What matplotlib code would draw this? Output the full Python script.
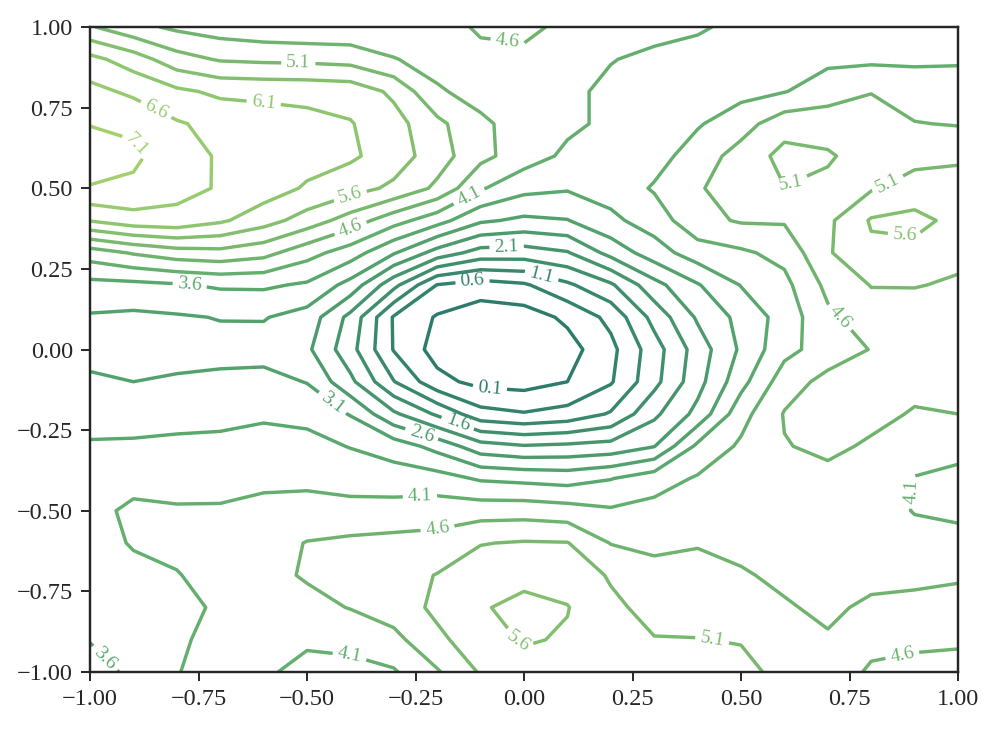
import numpy as np
import matplotlib
matplotlib.use("Agg")
from matplotlib import pyplot as plt
from matplotlib.colors import LinearSegmentedColormap

plt.rcParams['font.family'] = 'serif'
plt.rcParams['font.serif'] = ['Liberation Serif', 'DejaVu Serif']
plt.rcParams['axes.edgecolor'] = '.15'
plt.rcParams['xtick.color'] = '.15'
plt.rcParams['ytick.color'] = '.15'
plt.rcParams['text.color'] = '.15'
plt.rcParams['axes.linewidth'] = 1.0

# grid, rows from y=1.0 (top) down to y=-1.0
x = np.round(np.arange(-1.0, 1.01, 0.1), 2)
y = np.round(np.arange(1.0, -1.01, -0.1), 2)

z_rows = [
    [5.15, 4.75, 4.5, 4.35, 4.25, 4.2, 4.2, 4.3, 4.45, 4.65, 4.7, 4.5, 4.35, 4.25, 4.15, 4.0, 3.95, 3.95, 3.95, 3.95, 3.95],
    [6.25, 5.85, 5.3, 5.05, 5.0, 4.98, 4.92, 4.62, 4.45, 4.5, 4.5, 4.35, 4.12, 4.0, 3.95, 3.95, 3.97, 4.0, 4.0, 4.02, 4.05],
    [6.75, 6.5, 6.2, 6.0, 5.97, 5.95, 5.9, 5.5, 4.65, 4.45, 4.35, 4.2, 4.0, 3.9, 3.88, 3.95, 4.08, 4.35, 4.58, 4.36, 4.3],
    [7.08, 7.0, 6.65, 6.45, 6.35, 6.25, 6.13, 5.79, 5.23, 4.68, 4.42, 4.2, 4.0, 3.9, 4.05, 4.39, 4.9, 4.9, 4.85, 4.62, 4.57],
    [7.35, 7.2, 6.8, 6.55, 6.4, 6.3, 6.18, 5.86, 5.33, 4.74, 4.34, 4.0, 3.85, 3.9, 4.34, 4.8, 5.25, 5.15, 4.9, 4.95, 5.0],
    [7.07, 7.0, 6.75, 6.56, 6.35, 6.04, 5.8, 5.5, 5.0, 4.15, 3.75, 3.65, 3.8, 4.15, 4.55, 4.85, 5.09, 5.0, 5.05, 5.3, 5.35],
    [6.13, 6.4, 6.45, 6.18, 5.81, 5.38, 4.87, 4.3, 3.8, 3.18, 3.0, 3.08, 3.49, 3.83, 4.45, 4.65, 4.65, 5.0, 5.65, 5.75, 5.45],
    [4.35, 4.65, 4.88, 4.95, 4.77, 4.29, 3.85, 3.15, 2.4, 1.9, 1.87, 2.06, 2.77, 3.37, 3.86, 4.02, 4.25, 5.05, 5.5, 5.45, 5.2],
    [3.44, 3.47, 3.55, 3.67, 3.68, 3.53, 2.92, 1.75, 0.58, 0.38, 0.53, 1.01, 1.52, 2.43, 3.06, 3.62, 3.96, 4.73, 5.12, 5.12, 5.05],
    [3.05, 3.0, 3.05, 3.12, 3.13, 2.9, 1.95, 0.55, 0.05, -0.2, -0.15, 0.2, 0.74, 1.77, 2.67, 3.25, 3.81, 4.5, 4.85, 4.9, 4.95],
    [2.95, 2.95, 2.95, 2.95, 2.9, 2.7, 1.78, 0.57, -0.1, -0.3, -0.3, -0.1, 0.46, 1.38, 2.33, 3.18, 3.95, 4.33, 4.62, 4.75, 4.8],
    [3.17, 3.1, 3.15, 3.2, 3.27, 3.08, 2.22, 1.12, 0.25, -0.05, -0.1, 0.1, 0.55, 1.45, 2.42, 3.43, 4.37, 4.75, 4.8, 4.7, 4.7],
    [3.41, 3.39, 3.47, 3.46, 3.53, 3.47, 3.07, 2.19, 1.52, 0.78, 0.64, 0.78, 1.15, 1.99, 2.75, 3.92, 4.63, 4.75, 4.7, 4.57, 4.6],
    [3.65, 3.67, 3.68, 3.72, 3.78, 3.75, 3.58, 3.37, 2.93, 2.3, 2.14, 2.2, 2.28, 2.58, 3.71, 4.18, 4.58, 4.68, 4.55, 4.35, 4.29],
    [3.9, 3.93, 3.91, 3.93, 4.02, 3.99, 3.9, 3.84, 3.8, 3.54, 3.47, 3.4, 3.58, 3.88, 4.15, 4.3, 4.45, 4.5, 4.45, 4.08, 3.95],
    [3.95, 4.2, 4.15, 4.15, 4.2, 4.28, 4.26, 4.29, 4.36, 4.38, 4.39, 4.31, 4.16, 4.26, 4.37, 4.4, 4.35, 4.4, 4.3, 4.08, 4.0],
    [3.95, 4.13, 4.2, 4.25, 4.4, 4.62, 4.7, 4.75, 4.78, 5.08, 5.14, 5.12, 4.58, 4.5, 4.57, 4.47, 4.35, 4.3, 4.3, 4.25, 4.26],
    [3.85, 4.0, 4.08, 4.25, 4.45, 4.65, 4.85, 4.9, 5.12, 5.35, 5.45, 5.4, 5.05, 4.75, 4.75, 4.65, 4.5, 4.35, 4.45, 4.5, 4.55],
    [3.75, 3.9, 4.0, 4.15, 4.3, 4.45, 4.62, 4.85, 5.2, 5.55, 5.75, 5.62, 5.2, 4.95, 4.95, 4.89, 4.65, 4.5, 4.7, 4.72, 4.75],
    [3.62, 3.75, 4.05, 4.2, 4.2, 4.15, 4.24, 4.45, 5.0, 5.35, 5.65, 5.55, 5.3, 5.12, 5.11, 5.08, 4.9, 4.65, 4.7, 4.7, 4.68],
    [3.4, 3.7, 4.08, 4.3, 4.15, 4.0, 3.95, 4.05, 4.55, 5.15, 5.4, 5.35, 5.35, 5.3, 5.25, 5.2, 5.0, 4.8, 4.55, 4.45, 4.4],
]

levels = [0.1, 0.6, 1.1, 1.6, 2.1, 2.6, 3.1, 3.6, 4.1, 4.6, 5.1, 5.6, 6.1, 6.6, 7.1]

# where each level label sits in the reference
label_level = [0.1, 0.6, 1.1, 1.6, 2.1, 2.6, 3.1, 3.6, 3.6,
               4.1, 4.1, 4.1, 4.1,
               4.6, 4.6, 4.6, 4.6, 4.6,
               5.1, 5.1, 5.1, 5.1,
               5.6, 5.6, 5.6, 6.1, 6.6, 7.1]
label_x = [-0.08, -0.12, 0.04, -0.16, -0.04, -0.24, -0.44, -0.77, -0.96,
           -0.14, -0.24, -0.40, 0.885,
           -0.40, -0.037, -0.20, 0.72, 0.873,
           -0.52, 0.613, 0.836, 0.435,
           -0.40, 0.878, -0.02, -0.60, -0.84, -0.91]
label_y = [-0.147, 0.23, 0.225, -0.256, 0.318, -0.28, -0.163, 0.206, -0.95,
           0.51, -0.448, -0.93, -0.44,
           0.377, 0.966, -0.55, 0.09, -0.957,
           0.89, 0.525, 0.52, -0.89,
           0.476, 0.36, -0.916, 0.764, 0.764, 0.62]

Z = np.flipud(np.array(z_rows))
Y = y[::-1]
X, Yg = np.meshgrid(x, Y)

cmap = LinearSegmentedColormap.from_list(
    'greens', ['#2d7c6b', '#5aa86e', '#a2d06f'])

fig = plt.figure(figsize=(997/175, 729/175), dpi=175)
ax = fig.add_axes([90/997, 1 - 672/729, 868/997, 645/729])

cs = ax.contour(X, Yg, Z, levels=levels, cmap=cmap, linewidths=1.4)


def snap(lv, px, py):
    # project the spot onto the nearest segment of its own level
    best, best_d = None, np.inf
    for seg in cs.allsegs[levels.index(lv)]:
        a, b = seg[:-1], seg[1:]
        ab = b - a
        ab[:, 1] *= 0.74
        ap = np.column_stack([px - a[:, 0], (py - a[:, 1]) * 0.74])
        L = (ab ** 2).sum(1)
        t = np.clip((ap * ab).sum(1) / np.where(L == 0, 1, L), 0, 1)
        proj = a + t[:, None] * (b - a)
        d = (proj[:, 0] - px) ** 2 + ((proj[:, 1] - py) * 0.74) ** 2
        i = np.argmin(d)
        if d[i] < best_d:
            best, best_d = tuple(proj[i]), d[i]
    return best


spots = [snap(lv, lx, ly) for lv, lx, ly in zip(label_level, label_x, label_y)]
ax.clabel(cs, inline=True, fontsize=8, fmt='%.1f', manual=spots)

ax.set_xlim(-1, 1)
ax.set_ylim(-1, 1)

fig.savefig("out.png", dpi=175)
